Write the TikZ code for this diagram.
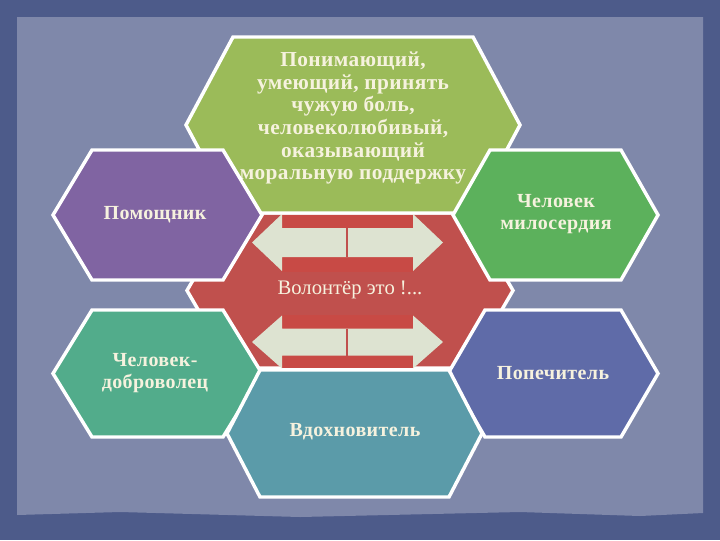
\documentclass[tikz,border=0pt]{standalone}
\usepackage{fontspec}
\setmainfont{Liberation Serif}
\newfontfamily\lblfont[LetterSpace=2]{Liberation Serif}
\definecolor{bgdark}{HTML}{4D5B8A}
\definecolor{bglight}{HTML}{7F88AA}
\definecolor{hgreen}{HTML}{9BBB59}
\definecolor{hred}{HTML}{C0504D}
\definecolor{hredband}{HTML}{C84A45}
\definecolor{hpurple}{HTML}{8064A2}
\definecolor{hgreenr}{HTML}{5CB15C}
\definecolor{hteal}{HTML}{52AC8B}
\definecolor{hblue}{HTML}{5F6BA8}
\definecolor{hcyan}{HTML}{5B9BA9}
\definecolor{txtcream}{HTML}{F6F2DE}
\definecolor{arrowfill}{HTML}{DDE3D1}
\tikzset{
  hexa/.style={draw=white, line width=2.6pt, line join=miter},
  hexp/.style args={#1/#2/#3/#4/#5}{insert path={
    ({#1-#3},#2) -- ({#1-#3+#5},{#2-#4}) -- ({#1+#3-#5},{#2-#4}) --
    ({#1+#3},#2) -- ({#1+#3-#5},{#2+#4}) -- ({#1-#3+#5},{#2+#4}) -- cycle}},
  dblarrow/.style args={#1/#2/#3}{insert path={
    (252,#1) -- (282,{#1-#3}) -- (282,{#1-#2}) -- (413,{#1-#2}) -- (413,{#1-#3}) --
    (443,#1) -- (413,{#1+#3}) -- (413,{#1+#2}) -- (282,{#1+#2}) -- (282,{#1+#3}) -- cycle}},
  lbl/.style={text=txtcream, font=\lblfont\bfseries\fontsize{15}{16.5}\selectfont,
    align=center, inner sep=0pt},
  toplbl/.style={text=txtcream, font=\lblfont\bfseries\fontsize{16}{17}\selectfont,
    align=center, inner sep=0pt},
  midlbl/.style={text=txtcream, font=\fontsize{15.5}{17}\selectfont, inner sep=0pt}
}
\begin{document}
\begin{tikzpicture}[x=0.75pt, y=-0.75pt]
\useasboundingbox (0,0) rectangle (720,540);
% background
\fill[bgdark] (0,0) rectangle (720,540);
\fill[bglight] (17,17) -- (703,17) -- (703,513) -- (640,516) -- (520,512) -- (300,517) -- (120,512) -- (17,515) -- cycle;
% central red hexagon
\filldraw[hexa, fill=hred, hexp=350/290.5/163/77.5/45];
\fill[hredband] (282,215) rectangle (413,272);
\fill[hredband] (282,315) rectangle (413,368);
\fill[arrowfill, dblarrow=242.5/14.5/28.5];
\fill[arrowfill, dblarrow=342/13.5/26.5];
\draw[hred, line width=0.8pt] (347,228) -- (347,257);
\draw[hred, line width=0.8pt] (347,328.5) -- (347,355.5);
\node[midlbl] (vol) at (350,290) {Волонтёр это !...};
% top green hexagon
\filldraw[hexa, fill=hgreen, hexp=353/125/167/88/47];
\node[toplbl] (top) at (353,118) {Понимающий,\\умеющий, принять\\чужую боль,\\человеколюбивый,\\оказывающий\\моральную поддержку};
% side hexagons
\filldraw[hexa, fill=hpurple, hexp=157.5/215/104.5/65/39];
\node[lbl] (pom) at (155,215) {Помощник};
\filldraw[hexa, fill=hgreenr, hexp=555.5/215/102.5/65/37];
\node[lbl] (mil) at (556,214) {Человек\\милосердия};
\filldraw[hexa, fill=hteal, hexp=157.5/373.5/104.5/63.5/39];
\node[lbl] (dob) at (155,373) {Человек-\\доброволец};
\filldraw[hexa, fill=hblue, hexp=553/373.5/105/63.5/37];
\node[lbl] (pop) at (553,373) {Попечитель};
% bottom hexagon
\filldraw[hexa, fill=hcyan, hexp=354.5/433.5/127.5/63.5/33];
\node[lbl] (vdo) at (355,432) {Вдохновитель};
\end{tikzpicture}
\end{document}
